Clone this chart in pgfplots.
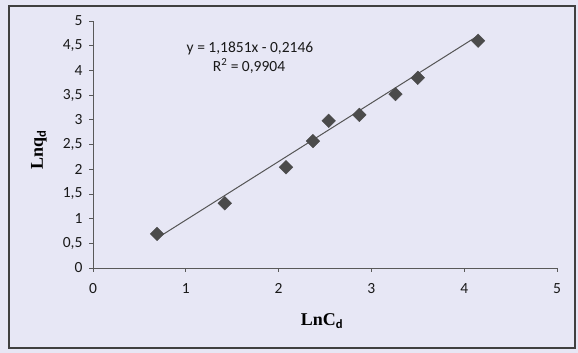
\documentclass[border=0pt]{standalone}
\usepackage{pgfplots}
\pgfplotsset{compat=1.18}
\usepackage{fontspec}
\setmainfont{Carlito}
\newfontfamily\serifb{Liberation Serif}
\definecolor{bg}{RGB}{231,231,245}
\definecolor{mk}{RGB}{75,75,75}
\definecolor{ln}{RGB}{85,85,85}
\begin{document}
\begin{tikzpicture}[x=1pt,y=1pt]
\fill[bg] (0,0) rectangle (578,353);
\draw[gray!50!black, line width=1.1pt] (9,5) rectangle (575,347);
\begin{axis}[
  at={(93pt,85pt)}, anchor=south west,
  scale only axis, width=464pt, height=247pt,
  xmin=0, xmax=5, ymin=0, ymax=5,
  axis lines=left, axis line style={-, gray!70!black, line width=0.8pt},
  xtick={0,1,2,3,4,5}, ytick={0,0.5,1,1.5,2,2.5,3,3.5,4,4.5,5},
  tick align=outside, major tick length=4pt,
  tick style={gray!70!black, line width=0.8pt},
  /pgf/number format/use comma,
  /pgf/number format/assume math mode=true,
  ticklabel style={font=\fontsize{15.5}{17}\selectfont, text=black!90},
  xticklabel style={yshift=-8pt},
  yticklabel style={xshift=-3pt},
  clip=false,
]
\addplot[only marks, mark=square*, mark size=4.8pt, mark options={rotate=45, fill=mk, draw=mk}]
coordinates {
(0.69,0.69) (1.42,1.31) (2.08,2.04) (2.37,2.57) (2.54,2.98)
(2.87,3.10) (3.26,3.52) (3.50,3.85) (4.15,4.60)
};
\addplot[ln, line width=1pt] coordinates {(0.69,0.6031) (4.15,4.7035)};
\end{axis}
\node[font=\fontsize{15.5}{17}\selectfont, text=black!90, inner sep=0pt] at (250,305) {y = 1,1851x - 0,2146};
\node[font=\fontsize{15.5}{17}\selectfont, text=black!90, inner sep=0pt] at (249,287) {R\textsuperscript{2} = 0,9904};
\node[rotate=90, font=\fontsize{18}{20}\selectfont] at (39,203) {{\serifb\bfseries Lnq}\textsubscript{\bfseries d}};
\node[font=\fontsize{18}{20}\selectfont] at (322,32) {{\serifb\bfseries LnC}\textsubscript{\bfseries d}};
\end{tikzpicture}
\end{document}
